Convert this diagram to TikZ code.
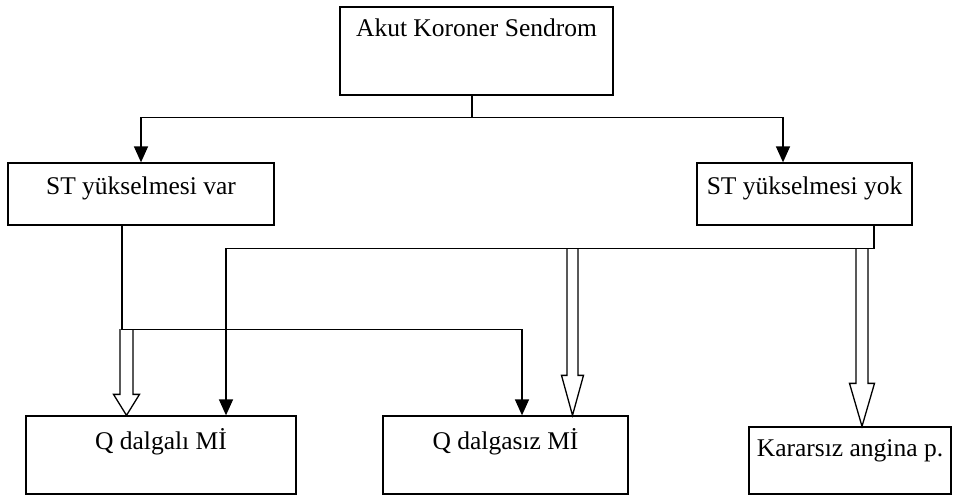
\documentclass[tikz,border=0pt]{standalone}
\usepackage{fontspec}
\setmainfont{Liberation Serif}
\usetikzlibrary{arrows.meta,calc}

% wide open arrow: from, to, head length, head half width, shaft half width
\newcommand{\hollowarrow}[5]{%
	\draw[fill=white, line width=1.3pt] let \p1=(#1), \p2=(#2) in
		(\x2-#5,\y1) -- (\x2-#5,\y2+#3) -- (\x2-#4,\y2+#3) -- (\x2,\y2)
		-- (\x2+#4,\y2+#3) -- (\x2+#5,\y2+#3) -- (\x2+#5,\y1);
}

\begin{document}
\begin{tikzpicture}[x=1pt, y=-1pt, font=\fontsize{25.5}{30}\selectfont,
		box/.style={draw, line width=1.3pt, inner sep=6pt},
		arr/.style={line width=1.5pt, -{Triangle[length=16pt,width=14pt]}}]
		\useasboundingbox (0,0) rectangle (953,495);
		
		\node[box, minimum width=273pt, text height=24pt, text depth=52pt] (AKS) at (476.5,51) {Akut Koroner Sendrom};
		\node[box, minimum width=266pt, text height=25pt, text depth=25pt] (STV) at (141,194) {ST yükselmesi var};
		\node[box, minimum width=215pt, text height=25pt, text depth=25pt] (STY) at (804.5,194) {ST yükselmesi yok};
		\node[box, minimum width=270pt, text height=27pt, text depth=39pt] (QDM) at (161,455) {Q dalgalı Mİ};
		\node[box, minimum width=245pt, text height=27pt, text depth=39pt] (QDZ) at (505.5,455) {Q dalgasız Mİ};
		\node[box, minimum width=202pt, text height=23pt, text depth=32pt] (KAP) at (850,460.5) {Kararsız angina p.};
		
		\coordinate (H1) at (126.5,329);
		\coordinate (H2) at (572.5,248);
		\coordinate (H3) at (862,248);
		
		\hollowarrow{H1}{[xshift=-34.5pt]QDM.north}{21pt}{13pt}{6.5pt}
		\hollowarrow{H2}{[xshift=67pt]QDZ.north}{40pt}{11pt}{5.5pt}
		\hollowarrow{H3}{[xshift=12pt]KAP.north}{43pt}{12.5pt}{6pt}
		
		\draw[arr] ([xshift=-4.5pt]AKS.south) -- ++(0,22) -| (STV.north);
		\draw[arr] ([xshift=-4.5pt]AKS.south) -- ++(0,22) -| ([xshift=-21.5pt]STY.north);
		\draw[arr] ([xshift=-19pt]STV.south) -- ++(0,104) -| ([xshift=16.5pt]QDZ.north);
		\draw[arr] ([xshift=69.5pt]STY.south) -- ++(0,23) -| ([xshift=65pt]QDM.north);
	\end{tikzpicture}
\end{document}
